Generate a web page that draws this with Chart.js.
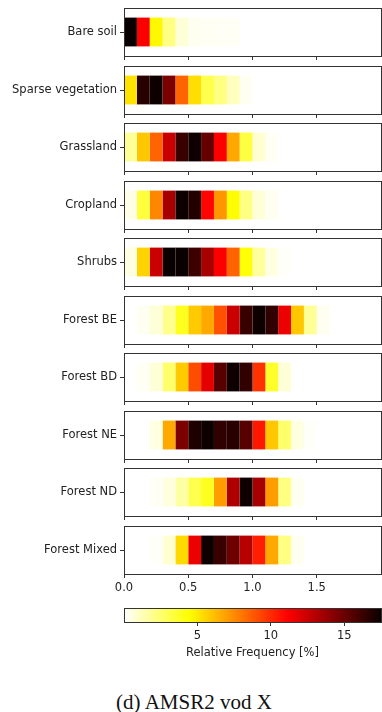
<!DOCTYPE html>
<html>
<head>
<meta charset="utf-8">
<script src="https://cdn.jsdelivr.net/npm/chart.js@4"></script>
<style>
  body { margin: 0; background: #fff; }
  #wrap { position: relative; width: 382px; height: 712px; overflow: hidden; background: #fff; }
  #wrap canvas { position: absolute; left: 0; }
  #caption {
    position: absolute; left: 0; width: 388px; top: 690px; line-height: 24px;
    text-align: center; font-family: "Liberation Serif", "Times New Roman", serif;
    font-size: 21px; color: #111;
  }
</style>
</head>
<body>
<div id="wrap">
  <div id="caption">(d) AMSR2 vod X</div>
</div>
<script>
// land cover classes, top to bottom
const landCovers = ["Bare soil", "Sparse vegetation", "Grassland", "Cropland", "Shrubs",
  "Forest BE", "Forest BD", "Forest NE", "Forest ND", "Forest Mixed"];

// VOD bin edges
const binEdges = [0.0, 0.1, 0.2, 0.3, 0.4, 0.5, 0.6, 0.7, 0.8, 0.9, 1.0,
  1.1, 1.2, 1.3, 1.4, 1.5, 1.6, 1.7, 1.8, 1.9, 2.0];

// relative frequency [%] per bin, starting at the first bin
const bareSoil = [17.5, 11.2, 4.6, 2.2, 0.7, 0.25, 0.2, 0.15, 0.15];
const sparseVeg = [5.2, 16.7, 17.4, 14.5, 8.5, 5.3, 3.1, 2.2, 1.1, 0.25];
const grassland = [1.8, 5.9, 8.5, 12.5, 16.3, 17.4, 15.1, 11.2, 6.7, 3.3, 0.8, 0.2];
const cropland = [0.4, 3.4, 7.6, 13.4, 17.4, 16.9, 11.0, 7.2, 4.5, 2.2, 0.7, 0.25];
const shrubs = [0.5, 5.6, 12.5, 17.5, 17.5, 16.2, 13.4, 11.2, 8.5, 4.3, 1.7, 0.5, 0.1];
const forestBE = [0, 0.25, 0.7, 2.0, 3.9, 5.8, 6.7, 9.0, 12.5, 16.3, 17.4, 16.5, 11.6, 5.9, 1.8, 0.25];
const forestBD = [0, 0.2, 0.7, 2.6, 5.8, 9.1, 11.8, 15.5, 17.4, 16.5, 9.8, 3.7, 0.7];
const forestNE = [0, 0, 0.5, 6.7, 14.5, 17.0, 17.4, 16.5, 16.7, 15.5, 10.5, 5.9, 2.6, 0.5, 0.1];
const forestND = [0, 0, 0.15, 0.6, 1.6, 3.1, 3.9, 7.0, 13.2, 17.4, 13.4, 7.0, 2.2, 0.25];
const forestMixed = [0, 0, 0.1, 0.8, 5.4, 11.6, 17.4, 16.3, 14.9, 13.0, 10.3, 6.7, 2.2, 0.25];

const xTicks = [0.0, 0.5, 1.0, 1.5];
const cbarTicks = [5, 10, 15];
const freqMax = 17.5;

const freqs = [bareSoil, sparseVeg, grassland, cropland, shrubs,
  forestBE, forestBD, forestNE, forestND, forestMixed];

Chart.defaults.font.family = "DejaVu Sans";
Chart.defaults.font.size = 11.5;
Chart.defaults.color = "#222";

// matplotlib "hot_r"
function hotR(v) {
  const t = 1 - Math.min(Math.max(v / freqMax, 0), 1);
  const a = 0.365079, b = 0.746032;
  const r = t < a ? 0.0416 + (1 - 0.0416) * t / a : 1;
  const g = t < a ? 0 : (t < b ? (t - a) / (b - a) : 1);
  const bl = t < b ? 0 : (t - b) / (1 - b);
  return `rgb(${Math.round(r * 255)},${Math.round(g * 255)},${Math.round(bl * 255)})`;
}

// box around the plot area
const frame = {
  id: "frame",
  afterDraw(chart) {
    const a = chart.chartArea, ctx = chart.ctx;
    ctx.save();
    ctx.strokeStyle = "#333";
    ctx.lineWidth = 1;
    ctx.strokeRect(Math.round(a.left) + 0.5, Math.round(a.top) + 0.5,
      Math.round(a.right - a.left), Math.round(a.bottom - a.top));
    ctx.restore();
  }
};

// keep tick labels from pushing the plot area around
function noLabelPadding(s) {
  s.paddingTop = 0;
  s.paddingBottom = 0;
  s.paddingLeft = 0;
  s.paddingRight = 0;
}

const wrap = document.getElementById("wrap");
const panelH = 48;

function panelTop(i) {
  return Math.round(8 + i * 57.5);
}

function makePanel(i) {
  const last = i === landCovers.length - 1;
  const h = last ? 80 : 60;
  const canvas = document.createElement("canvas");
  canvas.width = 382;
  canvas.height = h;
  canvas.style.top = (panelTop(i) - 1) + "px";
  wrap.appendChild(canvas);

  const datasets = freqs[i].map((v, j) => ({
    data: [[binEdges[j], binEdges[j + 1]]],
    backgroundColor: hotR(v),
    borderWidth: 0,
    barPercentage: 0.6,
    categoryPercentage: 1,
    grouped: false
  }));

  new Chart(canvas, {
    type: "bar",
    data: { labels: [landCovers[i]], datasets },
    options: {
      indexAxis: "y",
      responsive: false,
      animation: false,
      events: [],
      layout: { padding: { top: 1, right: 1, left: 0, bottom: 0 } },
      plugins: { legend: { display: false }, tooltip: { enabled: false } },
      scales: {
        x: {
          min: 0, max: 2,
          border: { display: false },
          grid: { drawOnChartArea: false, tickLength: 4, color: "#333" },
          ticks: { display: last, padding: 3, callback: v => Number(v).toFixed(1) },
          afterBuildTicks: s => { s.ticks = xTicks.map(v => ({ value: v })); },
          afterFit: s => { s.height = h - 1 - panelH; noLabelPadding(s); }
        },
        y: {
          border: { display: false },
          grid: { drawOnChartArea: false, offset: false, tickLength: 4, color: "#333" },
          ticks: { padding: 3 },
          afterFit: s => { s.width = 124; noLabelPadding(s); }
        }
      }
    },
    plugins: [frame]
  });
}

landCovers.forEach((_, i) => makePanel(i));

// colorbar
const cbGradient = {
  id: "cbGradient",
  beforeDatasetsDraw(chart) {
    const a = chart.chartArea, ctx = chart.ctx;
    const grad = ctx.createLinearGradient(a.left, 0, a.right, 0);
    for (let k = 0; k <= 64; k++) grad.addColorStop(k / 64, hotR(freqMax * k / 64));
    ctx.save();
    ctx.fillStyle = grad;
    ctx.fillRect(a.left, a.top, a.right - a.left, a.bottom - a.top);
    ctx.restore();
  }
};

const cb = document.createElement("canvas");
cb.width = 382;
cb.height = 64;
cb.style.top = "600px";
wrap.appendChild(cb);

new Chart(cb, {
  type: "scatter",
  data: { datasets: [{ data: [] }] },
  options: {
    responsive: false,
    animation: false,
    events: [],
    layout: { padding: { top: 8, left: 124, right: 1, bottom: 0 } },
    plugins: { legend: { display: false }, tooltip: { enabled: false } },
    scales: {
      x: {
        min: 0, max: freqMax,
        border: { display: false },
        grid: { drawOnChartArea: false, tickLength: 4, color: "#333" },
        ticks: { padding: 3 },
        afterBuildTicks: s => { s.ticks = cbarTicks.map(v => ({ value: v })); },
        title: { display: true, text: "Relative Frequency [%]", padding: { top: 4, bottom: 4 } },
        afterFit: s => { s.height = 42; noLabelPadding(s); }
      },
      y: { display: false }
    }
  },
  plugins: [cbGradient, frame]
});
</script>
</body>
</html>
